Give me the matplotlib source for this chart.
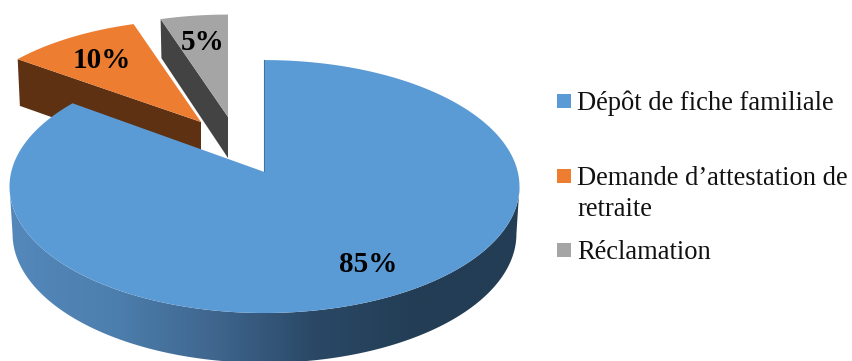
import numpy as np
import matplotlib
matplotlib.use('Agg')
import matplotlib.pyplot as plt
from matplotlib.colors import LinearSegmentedColormap
from matplotlib.patches import Polygon, Rectangle

plt.rcParams['font.family'] = ['Liberation Serif', 'DejaVu Serif']

# Data
categories = ['Dépôt de fiche familiale', "Demande d’attestation de\nretraite", 'Réclamation']
shares = [85, 10, 5]

# Colours
top_colors = ['#5b9bd5', '#ed7d31', '#a5a5a5']
side_colors = ['#2a4a68', '#5f3113', '#434343']
wall_colors = ['#5488bb', '#4d7fae', '#3f668e', '#2a4865', '#233d55', '#233d55']

# Perspective of the pie disc
CX, CY = 264.5, 172
A, B, K = 253.3, 124.8, 0.115
DEPTH = 47
A_LOW, B_LOW = A * 0.988, B * 1.02

# Detached slices: where the tip sits, their shrink towards the back, wall height
tips = [(CX, CY), (201, 122), (228, 117)]
shrink = [(1, 1), (0.955, 0.915), (0.955, 0.915)]
depths = [DEPTH, 48, 41]


def disc_points(deg, low=False):
    t = np.radians(deg)
    u, v = np.sin(t), np.cos(t)
    w = 1 + K * v
    if low:
        return CX + A_LOW * u / w, CY + DEPTH - B_LOW * v / w
    return CX + A * u / w, CY - B * v / w


def slice_points(deg, i, low=False):
    x, y = disc_points(deg, low)
    base_y = CY + DEPTH if low else CY
    tip_y = tips[i][1] + depths[i] if low else tips[i][1]
    return tips[i][0] + shrink[i][0] * (x - CX), tip_y + shrink[i][1] * (y - base_y)


def sector(start, end, i):
    x, y = slice_points(np.linspace(start, end, 200), i)
    return np.column_stack([np.r_[tips[i][0], x], np.r_[tips[i][1], y]])


fig = plt.figure(figsize=(8.53, 3.61), dpi=100)
ax = fig.add_axes([0, 0, 1, 1])
ax.axis('off')

edges = np.r_[0, np.cumsum(shares)] * 360 / sum(shares)

# Detached slices first: radial wall, then top face
for i, z in ((2, 1), (1, 3)):
    x0, y0 = tips[i]
    x1, y1 = slice_points(edges[i], i)
    xb1, yb1 = slice_points(edges[i], i, low=True)
    ax.add_patch(Polygon([(x1, y1), (x0, y0), (x0, y0 + depths[i]), (xb1, yb1)], fc=side_colors[i], ec='none', zorder=z))
    ax.add_patch(Polygon(sector(edges[i], edges[i + 1], i), fc=top_colors[i], ec='none', zorder=z + 1))

# Outer wall of the large slice with a left to right shade
lim = np.degrees(np.arcsin(K))
front = np.linspace(90 + lim, 270 - lim, 300)
xt, yt = disc_points(front)
xl, yl = disc_points(front, low=True)
wall = Polygon(np.column_stack([np.r_[xt, xl[::-1]], np.r_[yt, yl[::-1]]]), fc='none', ec='none')
ax.add_patch(wall)
cmap = LinearSegmentedColormap.from_list('wall', wall_colors)
grad = ax.imshow(np.linspace(0, 1, 256).reshape(1, -1), cmap=cmap, extent=(10, 520, 361, 0), aspect='auto', zorder=5)
grad.set_clip_path(wall)
ax.set_xlim(0, 853)
ax.set_ylim(361, 0)

# Top face of the large slice and the thin edge of its notch
ax.add_patch(Polygon(sector(edges[0], edges[1], 0), fc=top_colors[0], ec='none', zorder=6))
nx, ny = disc_points(0)
ax.plot([nx, CX], [ny, CY], color=side_colors[0], lw=0.8, zorder=5.5)

# Value labels
label_pos = [(368, 265), (102, 60), (203, 42)]
for s, (lx, ly) in zip(shares, label_pos):
    ax.text(lx, ly, f'{s}%', fontsize=21, fontweight='bold', ha='center', va='center', color='black', zorder=8)

# Legend
swatch_y = [94, 169, 243]
text_y = [110, 185, 259]
for name, col, sy, ty in zip(categories, top_colors, swatch_y, text_y):
    ax.add_patch(Rectangle((557, sy), 14, 14, fc=col, ec='none', zorder=8))
    for n, line in enumerate(name.split('\n')):
        ax.text(577, ty + 31 * n, line, fontsize=19.1, va='baseline', ha='left', color='#111111', zorder=8)

fig.savefig('out.png', dpi=100)
